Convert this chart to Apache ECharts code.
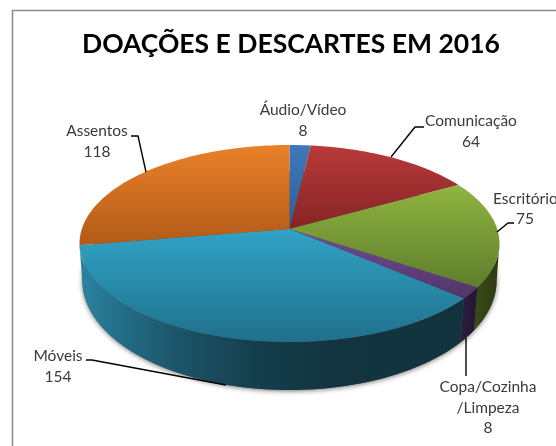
<!DOCTYPE html>
<html><head><meta charset="utf-8">
<style>html,body{margin:0;padding:0;background:#fff}#c{width:556px;height:446px}</style>
<script src="https://cdn.jsdelivr.net/npm/echarts@6/dist/echarts.min.js"></script>
</head><body><div id="c"></div>
<script>
const titleText = 'DOAÇÕES E DESCARTES EM 2016';
const categories = ['Áudio/Vídeo', 'Comunicação', 'Escritório', 'Copa/Cozinha\n/Limpeza', 'Móveis', 'Assentos'];
const values = [8, 64, 75, 8, 154, 118];

// Projection of the disc: layout only
const CX = 289.5;
const topDisc = {A: 207.7, a: 62.66, b: 229, c: -0.1472};
const botDisc = {A: 205, a: 70, b: 265.4, c: -0.14};
const SIDE_FROM = 98.5, SIDE_TO = 261.5;

const topColors = [['#3f78bb','#2c5f98'],['#b93a3a','#862424'],['#8fb440','#5f7d2c'],['#6f4c93','#523569'],['#31a3c6','#1f708b'],['#ea8129','#b25a18']];
const sideColors = [['#2c5f98','#1c3f66'],['#6e1f1f','#4a1414'],['#3a4a18','#2c3a11'],['#2d1c40','#241633'],['#2f8dac','#11323d'],['#b25a18','#7a3d10']];
const sideStops = [[0,'#2b84a2'],[0.08,'#25738e'],[0.25,'#1c5569'],[0.45,'#153f4d'],[0.65,'#12343f'],[1,'#11333d']];
const labelBoxes = [[303,110],[471,121],[525,219],[488,387],[58,356],[97,131]];
const leaderLines = [
  null,
  [[424,127],[415,127],[391,157]],
  [[497,232],[508,223],[514,223]],
  [[466,338],[466,376]],
  [[86,360],[92,360],[226,385]],
  [[131,136],[138,136],[146,172]]
];
const LINE_H = 20.5;

const total = values.reduce((s, v) => s + v, 0);
const ranges = [];
values.reduce((acc, v) => { ranges.push([acc / total * 360, (acc + v) / total * 360]); return acc + v; }, 0);

function project(d, deg) {
  const t = deg * Math.PI / 180, u = Math.sin(t), v = -Math.cos(t), den = 1 + d.c * v;
  return [CX + d.A * u / den, (d.a * v + d.b) / den];
}
function arc(d, from, to) {
  const pts = [], n = Math.max(2, Math.ceil(Math.abs(to - from) / 1.5));
  for (let i = 0; i <= n; i++) pts.push(project(d, from + (to - from) * i / n));
  return pts;
}
const vGrad = c => ({type:'linear',x:0,y:0,x2:0,y2:1,colorStops:[{offset:0,color:c[0]},{offset:1,color:c[1]}]});
const hGrad = st => ({type:'linear',x:0,y:0,x2:1,y2:0,colorStops:st.map(s => ({offset:s[0],color:s[1]}))});

function renderShadow() {
  return {type:'polygon', shape:{points:arc(botDisc,0,360)},
    style:{fill:'#555', shadowColor:'rgba(0,0,0,0.55)', shadowBlur:5, shadowOffsetX:0, shadowOffsetY:1}};
}
function renderSide(p, api) {
  const i = api.value(0), from = Math.max(ranges[i][0], SIDE_FROM), to = Math.min(ranges[i][1], SIDE_TO);
  if (to <= from) return {type:'group', children:[]};
  const pts = arc(topDisc, from, to).concat(arc(botDisc, to, from));
  const fill = i === 4 ? hGrad(sideStops) : hGrad([[0, sideColors[i][0]],[1, sideColors[i][1]]]);
  return {type:'polygon', shape:{points:pts}, style:{fill}};
}
function renderTop(p, api) {
  const i = api.value(0);
  const pts = [[CX, topDisc.b]].concat(arc(topDisc, ranges[i][0], ranges[i][1]));
  return {type:'polygon', shape:{points:pts}, style:{fill:vGrad(topColors[i])}};
}
function renderLabel(p, api) {
  const i = api.value(0), children = [];
  if (leaderLines[i]) children.push({type:'polyline', shape:{points:leaderLines[i]}, style:{fill:null, stroke:'#000', lineWidth:1.4}});
  const lines = categories[i].split('\n').concat(String(values[i]));
  lines.forEach((t, k) => {
    const isEsc = i === 2 && k === 0;
    const y = i === 2 ? (k === 0 ? 199 : labelBoxes[i][1]) : labelBoxes[i][1] + k * LINE_H;
    children.push({type:'text', x: isEsc ? 493 : labelBoxes[i][0], y,
      style:{text:t, fill:'#3a3a3a', font:'15.5px "Lato"', align: isEsc ? 'left' : 'center', verticalAlign:'middle'}});
  });
  return {type:'group', children};
}
const idx = values.map((_, i) => [i]);
const chart = echarts.init(document.getElementById('c'), null, {renderer:'canvas'});
chart.setOption({
  animation:false,
  backgroundColor:'#fff',
  title:{text:titleText, left:286, top:26, textAlign:'center',
    textStyle:{fontFamily:'Lato', fontWeight:'bold', fontSize:26.5, color:'#000'}},
  graphic:[{type:'polyline', shape:{points:[[12.5,470],[12.5,10.5],[580,10.5]]}, silent:true,
    style:{fill:null, stroke:'#8c8c8c', lineWidth:1.6}}],
  series:[
    {type:'custom', coordinateSystem:'none', renderItem:renderShadow, data:[[0]], silent:true},
    {type:'custom', coordinateSystem:'none', renderItem:renderSide, data:idx, silent:true, z:3},
    {type:'custom', coordinateSystem:'none', renderItem:renderTop, data:idx, silent:true, z:4},
    {type:'custom', coordinateSystem:'none', renderItem:renderLabel, data:idx, silent:true, z:5}
  ]
});
</script></body></html>
